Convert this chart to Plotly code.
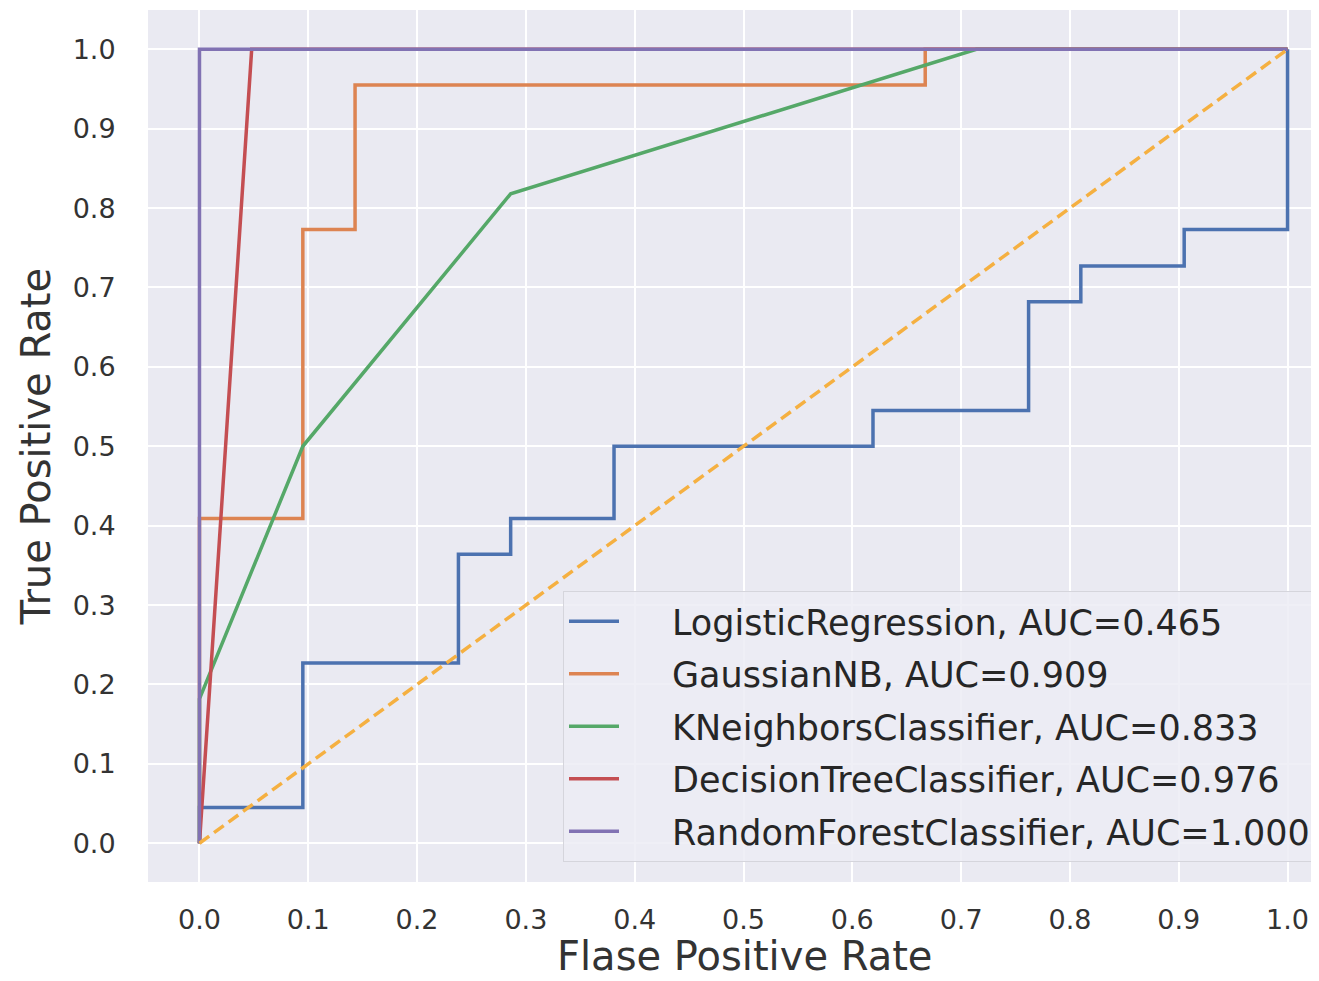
import plotly.graph_objects as go

# ---- data ----
lr_fpr = [0.0, 0.0, 0.095, 0.095, 0.238, 0.238, 0.286, 0.286, 0.381, 0.381,
          0.619, 0.619, 0.762, 0.762, 0.810, 0.810, 0.905, 0.905, 1.0, 1.0]
lr_tpr = [0.0, 0.045, 0.045, 0.227, 0.227, 0.364, 0.364, 0.409, 0.409, 0.5,
          0.5, 0.545, 0.545, 0.682, 0.682, 0.727, 0.727, 0.773, 0.773, 1.0]

gnb_fpr = [0.0, 0.0, 0.095, 0.095, 0.143, 0.143, 0.667, 0.667, 1.0]
gnb_tpr = [0.0, 0.409, 0.409, 0.773, 0.773, 0.955, 0.955, 1.0, 1.0]

knn_fpr = [0.0, 0.0, 0.095, 0.286, 0.714, 1.0]
knn_tpr = [0.0, 0.182, 0.5, 0.818, 1.0, 1.0]

dt_fpr = [0.0, 0.048, 1.0]
dt_tpr = [0.0, 1.0, 1.0]

rf_fpr = [0.0, 0.0, 1.0]
rf_tpr = [0.0, 1.0, 1.0]

diag = [0.0, 1.0]

names = ["LogisticRegression", "GaussianNB", "KNeighborsClassifier",
         "DecisionTreeClassifier", "RandomForestClassifier"]
aucs = [0.465, 0.909, 0.833, 0.976, 1.000]
colors = ["#4C72B0", "#DD8452", "#55A868", "#C44E52", "#8172B3"]

ticks = [0.0, 0.1, 0.2, 0.3, 0.4, 0.5, 0.6, 0.7, 0.8, 0.9, 1.0]
tick_text = ["0.0", "0.1", "0.2", "0.3", "0.4", "0.5", "0.6", "0.7", "0.8", "0.9", "1.0"]

x_title = "Flase Positive Rate"
y_title = "True Positive Rate"

curves = [(lr_fpr, lr_tpr), (gnb_fpr, gnb_tpr), (knn_fpr, knn_tpr),
          (dt_fpr, dt_tpr), (rf_fpr, rf_tpr)]

FONT = "DejaVu Sans"
GAP = "\u00a0" * 4 + "\u200a"  # visual gap between legend line sample and label

fig = go.Figure()
for (fx, ty), name, auc, col in zip(curves, names, aucs, colors):
    fig.add_trace(go.Scatter(
        x=fx, y=ty, mode="lines",
        name=f"{GAP}{name}, AUC={auc:.3f}",
        legendgroup=name,
        line=dict(color=col, width=3.5),
    ))

fig.add_trace(go.Scatter(
    x=diag, y=diag, mode="lines", showlegend=False,
    line=dict(color="#F5B041", width=3.5, dash="12px,6px"),
))

# page has an 8px body margin; figure is sized/margined to compensate
fig.update_layout(
    width=1311, height=973,
    margin=dict(l=140, r=0, t=2, b=99),
    paper_bgcolor="white",
    plot_bgcolor="#EAEAF2",
    font=dict(family=FONT, color="#333333"),
    showlegend=True,
    legend=dict(
        x=0.3544, y=0.3337, xanchor="left", yanchor="top",
        bgcolor="rgba(236,236,244,0.85)",
        bordercolor="#D5D5DC", borderwidth=1,
        font=dict(family=FONT, size=35, color="#262626"),
        tracegroupgap=4,
        itemwidth=50,
    ),
    annotations=[dict(
        text=x_title, xref="paper", yref="paper", x=0.5098, y=0,
        xanchor="center", yanchor="middle", yshift=-74, showarrow=False,
        font=dict(family=FONT, size=40, color="#333333"),
    )],
)

fig.update_xaxes(
    range=[-0.0473, 1.0289],
    tickvals=ticks, ticktext=tick_text,
    tickfont=dict(size=27, color="#333333"),
    ticks="outside", ticklen=14, tickcolor="rgba(0,0,0,0)",
    showgrid=True, gridcolor="white", gridwidth=2,
    zeroline=False, showline=False,
)
fig.update_yaxes(
    range=[-0.0488, 1.0495],
    tickvals=ticks, ticktext=tick_text,
    tickfont=dict(size=27, color="#333333"),
    ticks="outside", ticklen=26, tickcolor="rgba(0,0,0,0)",
    showgrid=True, gridcolor="white", gridwidth=2,
    zeroline=False, showline=False,
    title=dict(text=y_title, font=dict(size=40, color="#333333"), standoff=9),
)

fig.write_html("out.html")
